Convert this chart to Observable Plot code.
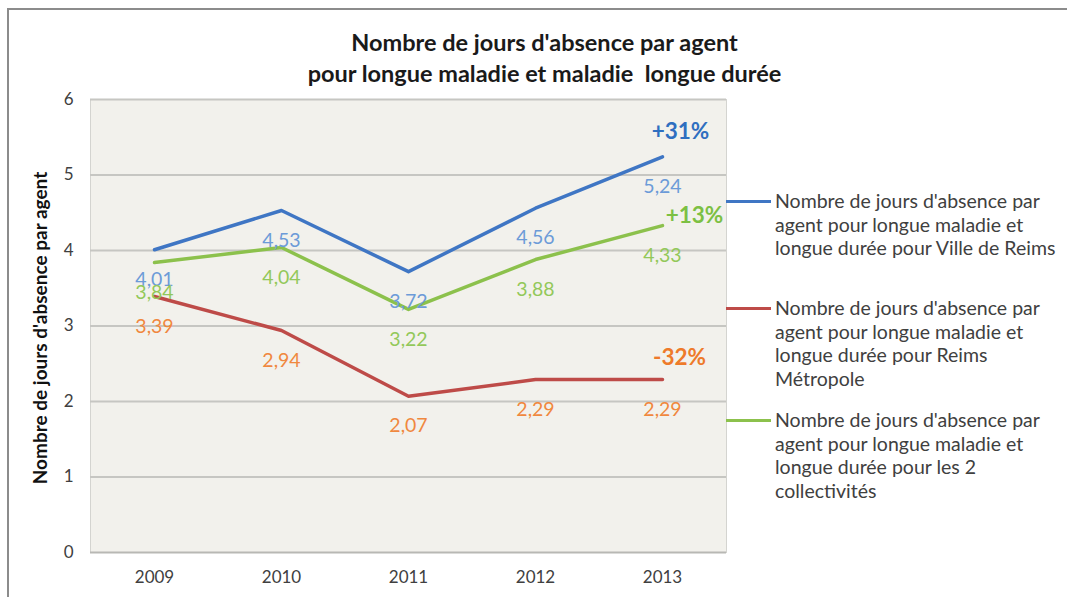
<!DOCTYPE html>
<html>
<head>
<meta charset="utf-8">
<script src="https://cdn.jsdelivr.net/npm/d3@7"></script>
<script src="https://cdn.jsdelivr.net/npm/@observablehq/plot@0.6"></script>
<style>
  html, body { margin: 0; padding: 0; background: #fff; }
  #wrap { position: relative; width: 1067px; height: 597px; overflow: hidden; font-family: Lato, "Open Sans", sans-serif; }
  #border { position: absolute; left: 7px; top: 8px; width: 1100px; height: 700px; border-left: 2px solid #8c8c8c; border-top: 2px solid #8c8c8c; }
  #title { position: absolute; left: 0; width: 1089px; top: 27px; text-align: center; font-weight: bold; font-size: 23.5px; line-height: 31px; color: #1a1a1a; white-space: pre; }
  #chart { position: absolute; left: 0; top: 0; }
  .leg-line { position: absolute; height: 3px; }
  .leg-text { position: absolute; font-size: 19.5px; line-height: 23.6px; color: #404040; white-space: nowrap; }
</style>
</head>
<body>
<div id="wrap">
  <div id="border"></div>
  <div id="chart"></div>
  <div id="title"></div>
  <div id="legend"></div>
</div>
<script>
const years = ["2009", "2010", "2011", "2012", "2013"];
const villeReims = [4.01, 4.53, 3.72, 4.56, 5.24];
const reimsMetropole = [3.39, 2.94, 2.07, 2.29, 2.29];
const deuxCollectivites = [3.84, 4.04, 3.22, 3.88, 4.33];
const seriesNames = [
  "Nombre de jours d'absence par agent pour longue maladie et longue durée pour Ville de Reims",
  "Nombre de jours d'absence par agent pour longue maladie et longue durée pour Reims Métropole",
  "Nombre de jours d'absence par agent pour longue maladie et longue durée pour les 2 collectivités"
];
const legendLines = [
  ["Nombre de jours d'absence par", "agent pour longue maladie et", "longue durée pour Ville de Reims"],
  ["Nombre de jours d'absence par", "agent pour longue maladie et", "longue durée pour Reims", "Métropole"],
  ["Nombre de jours d'absence par", "agent pour longue maladie et", "longue durée pour les 2", "collectivités"]
];
const changeLabels = ["+31%", "-32%", "+13%"];
const yTicks = [0, 1, 2, 3, 4, 5, 6];
const titleLines = ["Nombre de jours d'absence par agent", "pour longue maladie et maladie  longue durée"];
const yLabel = "Nombre de jours d'absence par agent";

const lineColors = ["#3f76c4", "#be4b48", "#8cc14c"];
const labelColors = ["#6c9bd8", "#f0883e", "#93c85a"];
const pctColors = ["#2f6fc0", "#ee7a2a", "#7cc043"];

const allValues = [villeReims, reimsMetropole, deuxCollectivites];
const data = [];
allValues.forEach((vals, si) => vals.forEach((v, i) => data.push({series: si, year: years[i], value: v})));
const lastPoints = allValues.map((vals, si) => ({series: si, year: years[years.length - 1], value: vals[vals.length - 1], label: changeLabels[si]}));
const pctOffsets = [[18, -25], [17, -22], [32, -10]];

const chart = Plot.plot({
  width: 1067,
  height: 597,
  marginLeft: 90,
  marginRight: 341,
  marginTop: 99,
  marginBottom: 45,
  style: {fontFamily: "Lato, 'Open Sans', sans-serif", background: "transparent", overflow: "visible"},
  x: {type: "point", domain: years, padding: 0.5, label: null},
  y: {domain: [0, 6], ticks: yTicks, label: null},
  marks: [
    Plot.frame({fill: "#f2f1ec", stroke: "#d4d4d0"}),
    Plot.ruleY(yTicks.slice(1), {stroke: "#c6c6c2", strokeWidth: 2}),
    Plot.ruleY([0], {stroke: "#b8b8b4", strokeWidth: 2}),
    Plot.axisY({ticks: yTicks, tickSize: 0, tickPadding: 17, fontSize: 17, fill: "#404040", label: null, tickFormat: d => String(d)}),
    Plot.axisX({tickSize: 0, tickPadding: 18, fontSize: 17, fill: "#404040", label: null}),
    Plot.text([yLabel], {frameAnchor: "left", textAnchor: "middle", dx: -50, dy: 2, rotate: -90, fontWeight: "bold", fontSize: 19, fill: "#111"}),
    ...allValues.map((vals, si) =>
      Plot.line(data.filter(d => d.series === si), {x: "year", y: "value", stroke: lineColors[si], strokeWidth: 3.5})
    ),
    ...allValues.map((vals, si) =>
      Plot.text(data.filter(d => d.series === si), {x: "year", y: "value", text: d => d.value.toFixed(2).replace(".", ","), dy: 30, fill: labelColors[si], fontSize: 19.5})
    ),
    ...lastPoints.map((p, si) =>
      Plot.text([p], {x: "year", y: "value", text: "label", dx: pctOffsets[si][0], dy: pctOffsets[si][1], fill: pctColors[si], fontSize: 22.5, fontWeight: "bold"})
    )
  ]
});
document.getElementById("chart").appendChild(chart);

document.getElementById("title").textContent = titleLines.join("\n");

const legend = document.getElementById("legend");
const legendY = [201, 308, 420];
legendLines.forEach((lines, si) => {
  const ln = document.createElement("div");
  ln.className = "leg-line";
  ln.style.left = "726px";
  ln.style.width = "45px";
  ln.style.top = (legendY[si] - 1.5) + "px";
  ln.style.background = lineColors[si];
  legend.appendChild(ln);
  const tx = document.createElement("div");
  tx.className = "leg-text";
  tx.style.left = "775px";
  tx.style.top = (legendY[si] - 11.8) + "px";
  tx.title = seriesNames[si];
  tx.innerHTML = lines.map(l => l.replace(/&/g, "&amp;").replace(/</g, "&lt;")).join("<br>");
  legend.appendChild(tx);
});
</script>
</body>
</html>
